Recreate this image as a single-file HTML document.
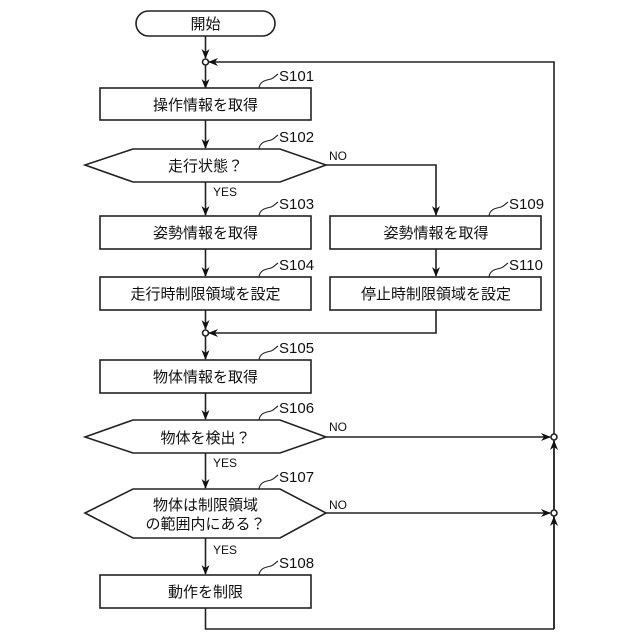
<!DOCTYPE html>
<html><head><meta charset="utf-8"><style>
html,body{margin:0;padding:0;background:#fff;}
svg{display:block}
text{font-family:"Liberation Sans","Noto Sans CJK JP",sans-serif;fill:#111}
</style></head><body>
<svg width="640" height="640" viewBox="0 0 640 640" xmlns="http://www.w3.org/2000/svg">
<defs>
<marker id="a" markerWidth="10" markerHeight="10" refX="9" refY="5" orient="auto" markerUnits="userSpaceOnUse">
<path d="M0,1 L10,5 L0,9 L3,5 Z" fill="#111"/></marker>
</defs>
<g stroke="#222" stroke-width="1.6" fill="none">
<!-- start -->
<rect x="136" y="11" width="139" height="25" rx="12.5" fill="#fff"/>
<!-- lines -->
<line x1="205.5" y1="36" x2="205.5" y2="58" marker-end="url(#a)"/>
<line x1="205.5" y1="65" x2="205.5" y2="88" marker-end="url(#a)"/>
<polyline points="554,629 554,62 209,62" marker-end="url(#a)"/>
<line x1="205.5" y1="120" x2="205.5" y2="148" marker-end="url(#a)"/>
<polyline points="326,165 436,165 436,215" marker-end="url(#a)"/>
<line x1="205.5" y1="182" x2="205.5" y2="215" marker-end="url(#a)"/>
<line x1="205.5" y1="249" x2="205.5" y2="276" marker-end="url(#a)"/>
<line x1="436" y1="249" x2="436" y2="276" marker-end="url(#a)"/>
<line x1="205.5" y1="310" x2="205.5" y2="329" marker-end="url(#a)"/>
<polyline points="436,310 436,333 209,333" marker-end="url(#a)"/>
<line x1="205.5" y1="336" x2="205.5" y2="359" marker-end="url(#a)"/>
<line x1="205.5" y1="393" x2="205.5" y2="419" marker-end="url(#a)"/>
<line x1="326" y1="437" x2="550" y2="437" marker-end="url(#a)"/>
<line x1="205.5" y1="453" x2="205.5" y2="488" marker-end="url(#a)"/>
<line x1="326" y1="513" x2="550" y2="513" marker-end="url(#a)"/>
<line x1="554" y1="509" x2="554" y2="441" marker-end="url(#a)"/>
<line x1="554" y1="629" x2="554" y2="517" marker-end="url(#a)"/>
<line x1="205.5" y1="538" x2="205.5" y2="574" marker-end="url(#a)"/>
<polyline points="205.5,608 205.5,629 554,629"/>
<!-- boxes -->
<rect x="100" y="88" width="211" height="32" fill="#fff"/>
<polygon points="85,165 133,149 280,149 326,165 280,182 133,182" fill="#fff"/>
<rect x="100" y="216" width="211" height="33" fill="#fff"/>
<rect x="330" y="216" width="211" height="33" fill="#fff"/>
<rect x="100" y="277" width="211" height="33" fill="#fff"/>
<rect x="330" y="277" width="211" height="33" fill="#fff"/>
<rect x="100" y="360" width="211" height="33" fill="#fff"/>
<polygon points="85,437 133,420 280,420 326,437 280,453 133,453" fill="#fff"/>
<polygon points="85,513 133,489 280,489 326,513 280,538 133,538" fill="#fff"/>
<rect x="100" y="575" width="211" height="33" fill="#fff"/>
<!-- circles -->
<circle cx="205.5" cy="62" r="3" fill="#fff"/>
<circle cx="205.5" cy="333" r="3" fill="#fff"/>
<circle cx="554" cy="437" r="3" fill="#fff"/>
<circle cx="554" cy="513" r="3" fill="#fff"/>
<!-- leaders -->
<g stroke-width="1.1">
<path d="M259,88 C260,80 268,80 271,79 C274,78 275,76 278,74"/>
<path d="M259,149 C260,141 268,141 271,140 C274,139 275,137 278,135"/>
<path d="M259,216 C260,208 268,208 271,207 C274,206 275,204 278,202"/>
<path d="M259,277 C260,269 268,269 271,268 C274,267 275,265 278,263"/>
<path d="M489,216 C490,208 498,208 501,207 C504,206 505,204 508,202"/>
<path d="M489,277 C490,269 498,269 501,268 C504,267 505,265 508,263"/>
<path d="M259,360 C260,352 268,352 271,351 C274,350 275,348 278,346"/>
<path d="M259,420 C260,412 268,412 271,411 C274,410 275,408 278,406"/>
<path d="M259,489 C260,481 268,481 271,480 C274,479 275,477 278,475"/>
<path d="M259,575 C260,567 268,567 271,566 C274,565 275,563 278,561"/>
</g>
</g>
<g font-size="15" text-anchor="middle">
<text x="205.5" y="29">開始</text>
<text x="205.5" y="110">操作情報を取得</text>
<text x="205.5" y="171">走行状態？</text>
<text x="205.5" y="238">姿勢情報を取得</text>
<text x="436" y="238">姿勢情報を取得</text>
<text x="205.5" y="299">走行時制限領域を設定</text>
<text x="436" y="299">停止時制限領域を設定</text>
<text x="205.5" y="382">物体情報を取得</text>
<text x="205.5" y="443">物体を検出？</text>
<text x="205.5" y="510">物体は制限領域</text>
<text x="205.5" y="529">の範囲内にある？</text>
<text x="205.5" y="597">動作を制限</text>
</g>
<g font-size="15">
<text x="279" y="81">S101</text>
<text x="279" y="142">S102</text>
<text x="279" y="209">S103</text>
<text x="279" y="270">S104</text>
<text x="509" y="209">S109</text>
<text x="509" y="270">S110</text>
<text x="279" y="353">S105</text>
<text x="279" y="413">S106</text>
<text x="279" y="482">S107</text>
<text x="279" y="568">S108</text>
</g>
<g font-size="12">
<text x="329" y="160">NO</text>
<text x="213" y="196">YES</text>
<text x="329" y="431">NO</text>
<text x="213" y="467">YES</text>
<text x="329" y="509">NO</text>
<text x="213" y="554">YES</text>
</g>
</svg>
</body></html>
